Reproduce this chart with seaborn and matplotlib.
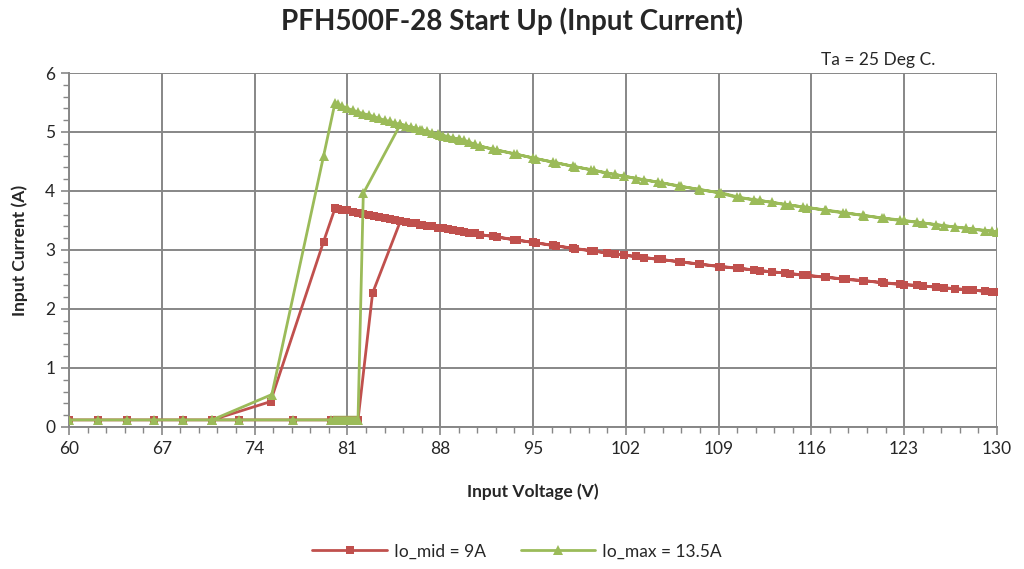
import numpy as np
import pandas as pd
import matplotlib
matplotlib.use("Agg")
import matplotlib.pyplot as plt
from matplotlib.ticker import FixedLocator
import seaborn as sns

# ---- data (read off the reference picture, in measurement order) ----
# start-up sweep, low voltage part (same for both loads)
low_v = [60.0, 62.2, 64.4, 66.4, 68.6, 70.8, 72.8, 76.9, 79.8, 80.0, 80.15, 80.3,
         80.45, 80.6, 80.75, 80.9, 81.05, 81.2, 81.35, 81.5, 81.65, 81.8]
low_i = [0.12] * len(low_v)

# rising sweep after start up
up_v = [85.0, 86.5, 88.0, 89.5, 91.0, 92.0, 93.6, 95.0, 96.5, 98.0, 99.4, 100.6,
        101.9, 103.4, 104.7, 106.0, 107.5, 109.0, 110.4, 111.7, 113.0, 114.4,
        115.7, 117.1, 118.4, 119.9, 121.3, 122.7, 124.0, 125.4, 126.8, 128.2,
        129.6, 130.0]
# falling sweep back down to drop out
down_v = [129.1, 127.7, 126.0, 124.4, 123.0, 121.5, 120.0, 118.6, 117.0, 115.4,
          114.0, 112.1, 110.6, 109.2, 107.6, 106.2, 104.4, 102.8, 101.2, 99.6,
          98.2, 96.7, 95.2, 93.8, 92.3, 91.0, 90.6, 90.2, 89.8, 89.4, 89.0, 88.6,
          88.2, 87.8, 87.4, 87.0, 86.6, 86.2, 85.8, 85.4, 85.0, 84.6, 84.2, 83.8,
          83.4, 83.0, 82.6, 82.2, 81.8, 81.4, 81.0, 80.6, 80.3, 80.07]

# Io_mid = 9A
mid_jump_v = [82.9]
mid_jump_i = [2.27]
mid_up_i = [3.49, 3.43, 3.38, 3.32, 3.26, 3.23, 3.17, 3.13, 3.08, 3.03, 2.99, 2.95,
            2.91, 2.87, 2.84, 2.80, 2.76, 2.72, 2.69, 2.66, 2.63, 2.60, 2.57, 2.54,
            2.51, 2.48, 2.45, 2.42, 2.40, 2.37, 2.34, 2.32, 2.29, 2.28]
mid_down_i = [2.30, 2.33, 2.36, 2.39, 2.41, 2.44, 2.48, 2.50, 2.54, 2.57, 2.61,
              2.65, 2.69, 2.72, 2.76, 2.80, 2.84, 2.89, 2.93, 2.98, 3.02, 3.07,
              3.12, 3.17, 3.22, 3.26, 3.28, 3.29, 3.31, 3.32, 3.34, 3.35, 3.37,
              3.38, 3.40, 3.41, 3.43, 3.45, 3.46, 3.48, 3.49, 3.51, 3.53, 3.54,
              3.56, 3.58, 3.60, 3.61, 3.63, 3.65, 3.67, 3.68, 3.70, 3.71]
mid_off_v = [79.2, 75.2, 70.8]
mid_off_i = [3.14, 0.43, 0.12]

# Io_max = 13.5A
max_jump_v = [82.2]
max_jump_i = [3.96]
max_up_i = [5.13, 5.04, 4.95, 4.87, 4.76, 4.71, 4.63, 4.56, 4.49, 4.42, 4.36, 4.30,
            4.25, 4.19, 4.14, 4.08, 4.03, 3.97, 3.89, 3.85, 3.81, 3.76, 3.72, 3.67,
            3.63, 3.59, 3.54, 3.50, 3.47, 3.43, 3.39, 3.35, 3.32, 3.31]
max_down_i = [3.33, 3.37, 3.41, 3.46, 3.50, 3.54, 3.58, 3.63, 3.68, 3.73, 3.77,
              3.84, 3.89, 3.97, 4.02, 4.08, 4.15, 4.21, 4.28, 4.35, 4.41, 4.48,
              4.55, 4.62, 4.69, 4.76, 4.79, 4.83, 4.86, 4.88, 4.90, 4.92, 4.94,
              4.97, 4.99, 5.01, 5.03, 5.06, 5.08, 5.11, 5.13, 5.15, 5.18, 5.20,
              5.23, 5.26, 5.29, 5.31, 5.34, 5.37, 5.40, 5.44, 5.47, 5.50]
max_off_v = [79.2, 75.3, 70.8]
max_off_i = [4.59, 0.55, 0.12]

x_ticks = [60, 67, 74, 81, 88, 95, 102, 109, 116, 123, 130]
y_ticks = [0, 1, 2, 3, 4, 5, 6]

mid_v = low_v + mid_jump_v + up_v + down_v + mid_off_v
mid_i = low_i + mid_jump_i + mid_up_i + mid_down_i + mid_off_i
max_v = low_v + max_jump_v + up_v + down_v + max_off_v
max_i = low_i + max_jump_i + max_up_i + max_down_i + max_off_i

df_mid = pd.DataFrame({"v": mid_v, "i": mid_i})
df_max = pd.DataFrame({"v": max_v, "i": max_i})

# ---- plot ----
sns.set_style("white")
plt.rcParams["font.family"] = ["Lato", "DejaVu Sans"]

red = "#C0504D"
green = "#9BBB59"
grid_c = "#878787"

fig = plt.figure(figsize=(10.24, 5.69), dpi=100)
ax = fig.add_axes([0.0674, 0.2496, 0.9062, 0.6221])

sns.lineplot(data=df_mid, x="v", y="i", sort=False, estimator=None, ax=ax,
             color=red, linewidth=2.0, marker="s", markersize=6,
             markeredgewidth=0, label="Io_mid = 9A", zorder=3)
sns.lineplot(data=df_max, x="v", y="i", sort=False, estimator=None, ax=ax,
             color=green, linewidth=2.0, marker="^", markersize=6.5,
             markeredgewidth=0, label="Io_max = 13.5A", zorder=4)

ax.set_xlim(60, 130)
ax.set_ylim(0, 6)
ax.xaxis.set_major_locator(FixedLocator(x_ticks))
ax.xaxis.set_minor_locator(FixedLocator(np.arange(60, 130.01, 1.4)))
ax.yaxis.set_major_locator(FixedLocator(y_ticks))
ax.yaxis.set_minor_locator(FixedLocator(np.arange(0, 6.01, 0.2)))
ax.grid(True, which="major", color=grid_c, linewidth=1.4)
ax.tick_params(which="major", direction="out", length=6, width=1.2,
               color=grid_c, labelsize=12.5, pad=4, bottom=True, left=True)
ax.tick_params(which="minor", direction="out", length=4, width=1.0,
               color=grid_c, bottom=True, left=True)
for side in ["top", "right"]:
    ax.spines[side].set_visible(False)
for side in ["left", "bottom"]:
    ax.spines[side].set_color(grid_c)
    ax.spines[side].set_linewidth(1.4)

ax.set_xlabel("Input Voltage (V)", fontsize=12.5, fontweight="bold", labelpad=19)
ax.set_ylabel("Input Current (A)", fontsize=12.5, fontweight="bold", labelpad=12)

fig.text(0.5, 0.962, "PFH500F-28 Start Up (Input Current)", ha="center",
         va="center", fontsize=20, fontweight="bold")
fig.text(0.913, 0.895, "Ta = 25 Deg C.", ha="right", va="center", fontsize=12.5)

ax.legend_.remove()
handles, labels = ax.get_legend_handles_labels()
fig.legend(handles, labels, loc="center", bbox_to_anchor=(0.505, 0.031), ncol=2,
           frameon=False, fontsize=12.5, handlelength=4.3, handletextpad=0.4,
           columnspacing=2.0)

fig.savefig("out.png", dpi=100)
